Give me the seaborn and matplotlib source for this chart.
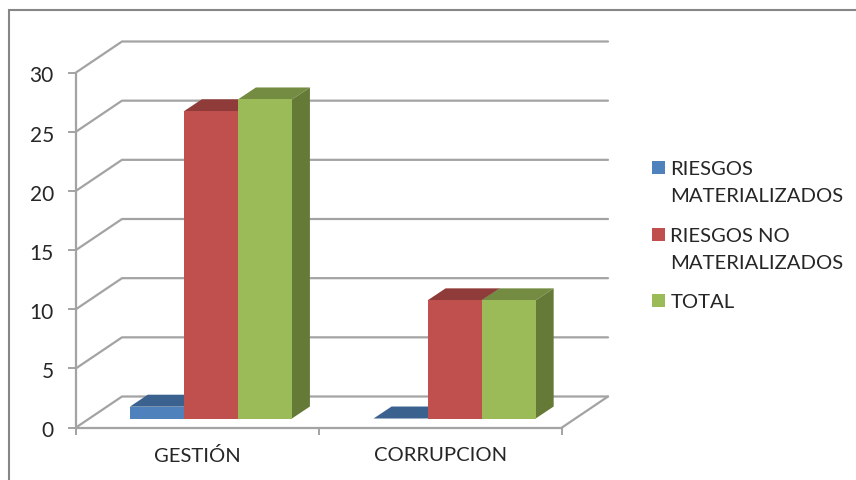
import numpy as np
import pandas as pd
import matplotlib
matplotlib.use('Agg')
import matplotlib.pyplot as plt
from matplotlib.patches import Polygon, Rectangle
from matplotlib.transforms import ScaledTranslation
import seaborn as sns

categories = ['GESTIÓN', 'CORRUPCION']
materializados = [1, 0]
no_materializados = [26, 10]
total = [27, 10]
series_names = ['RIESGOS MATERIALIZADOS', 'RIESGOS NO MATERIALIZADOS', 'TOTAL']
legend_labels = ['RIESGOS\nMATERIALIZADOS', 'RIESGOS NO\nMATERIALIZADOS', 'TOTAL']
y_ticks = [0, 5, 10, 15, 20, 25, 30]

colors = ['#4F81BD', '#C0504D', '#9BBB59']
top_colors = ['#3B618F', '#8F3B39', '#748C42']
side_colors = ['#335378', '#773230', '#667A38']
grid_color = '#A3A3A3'
text_color = '#262626'

W, H = 856, 481

sns.set_theme(style='white')
plt.rcParams['font.family'] = ['Lato', 'DejaVu Sans']

df = pd.DataFrame({
    'categoria': categories * 3,
    'serie': np.repeat(series_names, 2),
    'valor': materializados + no_materializados + total,
})


def px_axes(fig, left, right, top, bottom):
    # axes box given in image pixels
    return fig.add_axes([left / W, 1 - bottom / H, (right - left) / W, (bottom - top) / H])


fig = plt.figure(figsize=(W / 100, H / 100), dpi=100, facecolor='white')

# outer chart frame, runs off the right and bottom of the picture
fig.add_artist(Rectangle((9 / W, -0.1), 1.2, 1.1 - 11 / H, transform=fig.transFigure,
                         fill=False, edgecolor='#868686', linewidth=1.5))

# front plane of the box: axis lines, ticks and labels
ax = px_axes(fig, 76, 562, 73.5, 428.5)
ax.set_xlim(-0.5, 1.5)
ax.set_ylim(0, 30)
ax.patch.set_visible(False)
for side in ['top', 'right']:
    ax.spines[side].set_visible(False)
for side in ['left', 'bottom']:
    ax.spines[side].set_color(grid_color)
    ax.spines[side].set_linewidth(1.6)

ax.set_yticks(y_ticks)
ax.set_xticks([0, 1])
ax.set_xticklabels(categories)
ax.set_xticks([-0.5, 0.5, 1.5], minor=True)
ax.tick_params(axis='y', length=6, width=1.4, color=grid_color, pad=10, labelsize=15,
               labelcolor=text_color, left=True)
ax.tick_params(axis='x', which='major', length=0, pad=13.5, labelsize=14.6, labelcolor=text_color)
ax.tick_params(axis='x', which='minor', length=5, width=1.4, color=grid_color, bottom=True)

# the value labels sit a little under their ticks
nudge = ScaledTranslation(0, -1 / 100, fig.dpi_scale_trans)
for label in ax.get_yticklabels():
    label.set_transform(label.get_transform() + nudge)

# walls: diagonal from the front plane to the back, then along the back wall
xpx = 2 / 486
ypx = 30 / 355
depth_x = 46 * xpx
depth_y = 31 * ypx
wall_end = -0.5 + 532 * xpx
for v in y_ticks:
    ax.plot([-0.5, -0.5 + depth_x, wall_end], [v, v + depth_y, v + depth_y],
            color=grid_color, linewidth=1.6, clip_on=False, zorder=1)
ax.plot([1.5, wall_end], [0, depth_y], color=grid_color, linewidth=1.6, clip_on=False, zorder=1)

# bars stand on the middle of the floor, so they get their own axes
ax_bars = px_axes(fig, 89, 576.5, 65, 419.5)
ax_bars.patch.set_visible(False)
sns.barplot(data=df, x='categoria', y='valor', hue='serie', order=categories,
            hue_order=series_names, palette=colors, saturation=1, width=0.665, gap=0,
            legend=False, edgecolor='none', linewidth=0, zorder=3, ax=ax_bars)
ax_bars.set_xlim(-0.5, 1.5)
ax_bars.set_ylim(0, 30)
ax_bars.axis('off')

bar_dx = 18 * 2 / 487.5
bar_dy = 12 * ypx
for c, container in enumerate(ax_bars.containers):
    for bar in container:
        x0, x1 = bar.get_x(), bar.get_x() + bar.get_width()
        h = bar.get_height()
        ax_bars.add_patch(Polygon([(x0, h), (x1, h), (x1 + bar_dx, h + bar_dy), (x0 + bar_dx, h + bar_dy)],
                                  facecolor=top_colors[c], edgecolor='none', zorder=2, clip_on=False))
        ax_bars.add_patch(Polygon([(x1, 0), (x1 + bar_dx, bar_dy), (x1 + bar_dx, h + bar_dy), (x1, h)],
                                  facecolor=side_colors[c], edgecolor='none', zorder=2, clip_on=False))

# legend: marker lines up with the first line of each label
legend_y = [169, 236, 302]
for label, color, y in zip(legend_labels, colors, legend_y):
    fig.add_artist(Rectangle((652 / W, 1 - (y + 6) / H), 13 / W, 13 / H, transform=fig.transFigure,
                             facecolor=color, edgecolor='none'))
    fig.text(670.5 / W, 1 - (y - 7.5) / H, label, ha='left', va='top', fontsize=14.6,
             color=text_color, linespacing=1.68)

fig.savefig('out.png', dpi=100)
